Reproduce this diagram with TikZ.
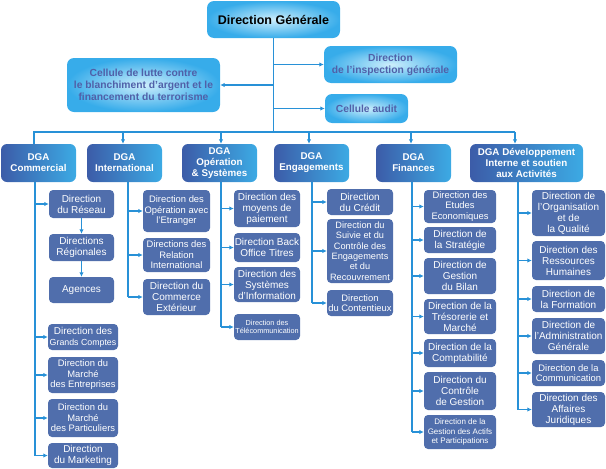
\documentclass[tikz,border=0pt]{standalone}
\usepackage{fontspec}
\setmainfont{Liberation Sans}
\usetikzlibrary{arrows.meta}

\definecolor{lineblue}{RGB}{40,145,215}
\definecolor{dirblue}{RGB}{80,110,172}
\definecolor{dgadark}{RGB}{60,92,168}
\definecolor{dgalight}{RGB}{60,170,228}
\definecolor{topblue}{RGB}{55,172,234}
\definecolor{toplight}{RGB}{205,238,252}
\definecolor{toptext}{RGB}{80,96,168}

\begin{document}
\begin{tikzpicture}[
    x=1pt, y=-1pt,
    >={Latex[length=4.5pt,width=4.5pt]}, % 矢印のスタイル
    wh/.style 2 args={minimum width=#1, minimum height=#2},
    topbox/.style={rounded corners=7pt, inner sep=1pt, align=center,
        inner color=toplight, outer color=topblue, text=toptext,
        font=\fontsize{10.3}{12}\selectfont\bfseries},
    dgabox/.style={rounded corners=6pt, inner sep=1pt, align=center,
        left color=dgadark, right color=dgalight, text=white,
        font=\fontsize{9.8}{11}\selectfont\bfseries},
    dirbox/.style={rounded corners=4pt, inner sep=0.5pt, align=center,
        fill=dirblue, text=white, font=\fontsize{10}{11}\selectfont},
    dirsmall/.style={dirbox, font=\fontsize{9.4}{10.5}\selectfont},
    dirtiny/.style={dirbox, font=\fontsize{7.3}{8.5}\selectfont},
    link/.style={lineblue, line width=1.1pt},
    arr/.style={link, ->},
    ]

    \useasboundingbox (0,0) rectangle (606,469);

    % --- Direction Générale et cellules ---
    \node[topbox, wh={133}{37}, text=black, font=\fontsize{12.5}{14}\selectfont\bfseries] (dg) at (273.5,19.5) {Direction Générale};
    \node[topbox, wh={153}{54}] (lutte) at (143.5,85) {Cellule de lutte contre\\le blanchiment d’argent et le\\financement du terrorisme};
    \node[topbox, wh={133}{37}] (insp) at (390.5,64.5) {Direction\\de l’inspection générale};
    \node[topbox, wh={83}{29}] (audit) at (366.5,108.5) {Cellule audit};

    % --- DGA ---
    \node[dgabox, wh={75}{38}] (com) at (38.5,163) {DGA\\Commercial};
    \node[dgabox, wh={75}{38}] (intl) at (124.5,163) {DGA\\International};
    \node[dgabox, wh={75}{38}] (ops) at (219.5,163) {DGA\\Opération\\\& Systèmes};
    \node[dgabox, wh={75}{38}] (eng) at (311.5,163) {DGA\\Engagements};
    \node[dgabox, wh={75}{38}] (fin) at (413.5,163) {DGA\\Finances};
    \node[dgabox, wh={113}{38}] (dev) at (526.5,163) {DGA Développement\\Interne et soutien\\aux Activités};

    % --- tronc et bus ---
    \coordinate (bus) at (273.5,132);
    \draw[link] (dg.south) -- (bus);
    \draw[arr] (bus |- lutte.east) -- (lutte.east);
    \draw[arr] (bus |- insp.west) -- (insp.west);
    \draw[arr] (bus |- audit.west) -- (audit.west);
    \coordinate (bA) at (34,132);
    \coordinate (bB) at (123,132);
    \coordinate (bC) at (221,132);
    \coordinate (bD) at (309,132);
    \coordinate (bE) at (411,132);
    \coordinate (bF) at (515,132);
    \draw[link] (bA |- com.north) -- (bA) -- (bF);
    \foreach \b/\n in {bB/intl, bC/ops, bD/eng, bE/fin, bF/dev}
        \draw[arr] (\b) -- (\b |- \n.north);

    % --- DGA Commercial ---
    \node[dirbox, wh={65}{28}] (reseau) at (81.5,204) {Direction\\du Réseau};
    \node[dirbox, wh={65}{27}] (regio) at (81.5,247.5) {Directions\\Régionales};
    \node[dirbox, wh={65}{26}] (agences) at (81.5,290) {Agences};
    \node[dirbox, wh={70}{26}] (grands) at (83,337) {Direction des\\{\fontsize{8.8}{10}\selectfont Grands Comptes}};
    \node[dirsmall, wh={70}{36}] (entr) at (83,375) {Direction du\\Marché\\des Entreprises};
    \node[dirsmall, wh={70}{38}] (part) at (83,418) {Direction du\\Marché\\des Particuliers};
    \node[dirbox, wh={70}{25}] (mkt) at (83,455.5) {Direction\\du Marketing};
    \draw[arr] (reseau) -- (regio);
    \draw[arr] (regio) -- (agences);

    % --- DGA International ---
    \node[dirsmall, wh={67}{42}] (etr) at (176.5,211) {Direction des\\Opération avec\\l’Etranger};
    \node[dirsmall, wh={67}{34}] (relint) at (176.5,255) {Directions des\\Relation\\International};
    \node[dirbox, wh={67}{36}] (comext) at (176.5,297) {Direction du\\Commerce\\Extérieur};

    % --- DGA Opération & Systèmes ---
    \node[dirbox, wh={66}{37}] (moyens) at (267,208.5) {Direction des\\moyens de\\paiement};
    \node[dirbox, wh={66}{29}] (back) at (267,247.5) {Direction Back\\Office Titres};
    \node[dirbox, wh={66}{35}] (sysinfo) at (267,284.5) {Direction des\\Systèmes\\d’Information};
    \node[dirtiny, wh={66}{26}] (telecom) at (267,327) {Direction des\\Télécommunication};

    % --- DGA Engagements ---
    \node[dirbox, wh={66}{26}] (credit) at (360,202) {Direction\\du Crédit};
    \node[dirsmall, wh={66}{64}, font=\fontsize{9.2}{10.4}\selectfont] (suivi) at (360,251) {Direction du\\Suivie et du\\Contrôle des\\Engagements\\et du\\Recouvrement};
    \node[dirsmall, wh={66}{26}] (content) at (360,303) {Direction\\du Contentieux};

    % --- DGA Finances ---
    \node[dirsmall, wh={72}{33}] (etudes) at (460,206.5) {Direction des\\Etudes\\Economiques};
    \node[dirbox, wh={72}{26}] (strat) at (460,240) {Direction de\\la Stratégie};
    \node[dirbox, wh={72}{36}] (bilan) at (460,276) {Direction de\\Gestion\\du Bilan};
    \node[dirbox, wh={72}{35}] (treso) at (460,316.5) {Direction de la\\Trésorerie et\\Marché};
    \node[dirbox, wh={72}{28}] (compta) at (460,353) {Direction de la\\Comptabilité};
    \node[dirbox, wh={72}{38}] (controle) at (460,391) {Direction du\\Contrôle\\de Gestion};
    \node[dirtiny, wh={72}{34}, font=\fontsize{8}{9.5}\selectfont] (actifs) at (460,432) {Direction de la\\Gestion des Actifs\\et Participations};

    % --- DGA Développement ---
    \node[dirbox, wh={73}{46}] (orga) at (568.5,213) {Direction de\\l’Organisation\\et de\\la Qualité};
    \node[dirbox, wh={73}{39}] (rh) at (568.5,260.5) {Direction des\\Ressources\\Humaines};
    \node[dirbox, wh={73}{26}] (forma) at (568.5,299) {Direction de\\la Formation};
    \node[dirbox, wh={73}{36}] (admin) at (568.5,336) {Direction de\\l’Administration\\Générale};
    \node[dirsmall, wh={73}{26}] (comm) at (568.5,373) {Direction de la\\Communication};
    \node[dirbox, wh={73}{35}] (jur) at (568.5,409.5) {Direction des\\Affaires\\Juridiques};

    % --- colonnes ---
    \coordinate (vA) at (35,182);
    \coordinate (vB) at (128,182);
    \coordinate (vC) at (221,182);
    \coordinate (vD) at (312,182);
    \coordinate (vE) at (412,182);
    \coordinate (vF) at (518,182);
    \draw[link] (vA) -- (vA |- mkt.west);
    \draw[link] (vB) -- (vB |- comext.west);
    \draw[link] (vC) -- (vC |- telecom.west);
    \draw[link] (vD) -- (vD |- content.west);
    \draw[link] (vE) -- (vE |- actifs.west);
    \draw[link] (vF) -- (vF |- jur.west);
    \foreach \v/\n in {vA/reseau, vA/grands, vA/entr, vA/part, vA/mkt,
            vB/etr, vB/relint, vB/comext,
            vC/moyens, vC/back, vC/sysinfo, vC/telecom,
            vD/credit, vD/suivi, vD/content,
            vE/etudes, vE/strat, vE/bilan, vE/treso, vE/compta, vE/controle, vE/actifs,
            vF/orga, vF/rh, vF/forma, vF/admin, vF/comm, vF/jur}
        \draw[arr] (\v |- \n.west) -- (\n.west);

\end{tikzpicture}
\end{document}
